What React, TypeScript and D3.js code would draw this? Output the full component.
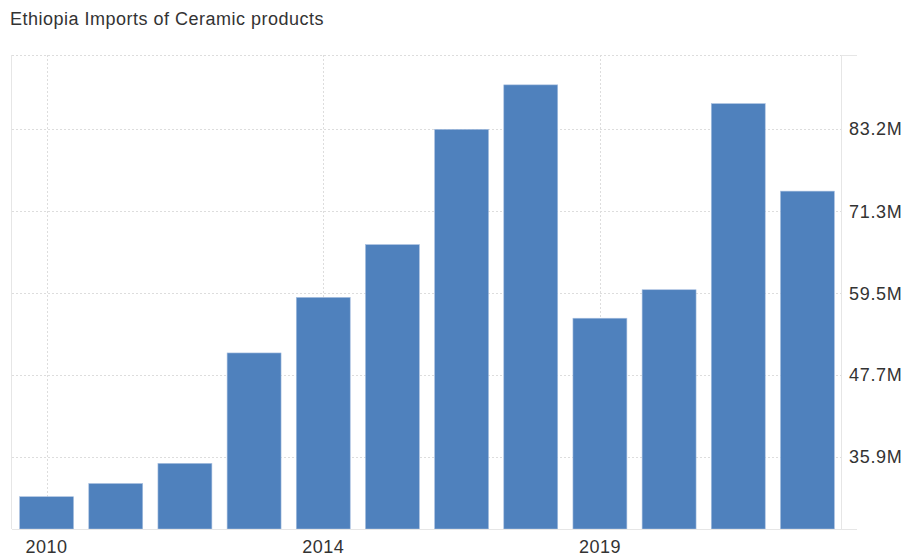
import { useEffect, useRef } from 'react';
import * as d3 from 'd3';

const years = ['2010', '2011', '2012', '2013', '2014', '2015', '2016', '2017', '2019', '2020', '2021', '2022'];
const imports = [30.2, 32.1, 35.0, 50.9, 58.9, 66.5, 83.1, 89.5, 55.9, 60.0, 86.8, 74.2];
const yTicks = [35.9, 47.7, 59.5, 71.3, 83.2];
const xTickYears = ['2010', '2014', '2019'];

const W = 904;
const H = 558;
const BAR = '#4f81bd';
const TEXT = '#333333';
const GRID = '#dddddd';

export default function App() {
  const svgRef = useRef<SVGSVGElement>(null);

  useEffect(() => {
    if (!svgRef.current) return;
    const svg = d3.select(svgRef.current);
    svg.selectAll('*').remove();

    const left = 12;
    const right = 842;
    const top = 55;
    const bottom = 529;

    const x = d3.scaleBand<string>()
      .domain(years)
      .range([left, right])
      .paddingInner(0.22)
      .paddingOuter(0.11);

    const y = d3.scaleLinear().domain([25.55, 93.8]).range([bottom, top]);

    // Title
    svg.append('text')
      .attr('x', 10)
      .attr('y', 25)
      .attr('font-size', 18)
      .attr('letter-spacing', 0.5)
      .attr('fill', TEXT)
      .text('Ethiopia Imports of Ceramic products');

    // top dotted line
    svg.append('line')
      .attr('x1', left).attr('x2', right)
      .attr('y1', top + 0.5).attr('y2', top + 0.5)
      .attr('stroke', GRID)
      .attr('stroke-dasharray', '2,2');

    // Horizontal grid
    svg.append('g')
      .selectAll('line')
      .data(yTicks)
      .join('line')
      .attr('x1', left).attr('x2', right)
      .attr('y1', (d) => Math.round(y(d)) + 0.5)
      .attr('y2', (d) => Math.round(y(d)) + 0.5)
      .attr('stroke', GRID)
      .attr('stroke-dasharray', '2,2');

    // Vertical grid at labeled years
    svg.append('g')
      .selectAll('line')
      .data(xTickYears)
      .join('line')
      .attr('x1', (d) => Math.round(x(d)! + x.bandwidth() / 2) + 0.5)
      .attr('x2', (d) => Math.round(x(d)! + x.bandwidth() / 2) + 0.5)
      .attr('y1', top).attr('y2', bottom)
      .attr('stroke', GRID)
      .attr('stroke-dasharray', '2,2');

    // Left border
    svg.append('line')
      .attr('x1', left - 0.5).attr('x2', left - 0.5)
      .attr('y1', top).attr('y2', bottom)
      .attr('stroke', '#e6e6e6');

    // Right axis line and short top extension
    svg.append('line')
      .attr('x1', right - 0.5).attr('x2', right - 0.5)
      .attr('y1', top).attr('y2', bottom)
      .attr('stroke', '#e6e6e6');
    svg.append('line')
      .attr('x1', right).attr('x2', 857)
      .attr('y1', top + 0.5).attr('y2', top + 0.5)
      .attr('stroke', '#e6e6e6');

    // Bars
    svg.append('g')
      .selectAll('rect')
      .data(imports)
      .join('rect')
      .attr('x', (_, i) => x(years[i])!)
      .attr('y', (d) => y(d))
      .attr('width', x.bandwidth())
      .attr('height', (d) => bottom - y(d))
      .attr('fill', BAR)
      .attr('stroke', '#a9c0e0')
      .attr('stroke-width', 0.6);

    // Bottom axis line
    svg.append('line')
      .attr('x1', left).attr('x2', 857)
      .attr('y1', bottom + 0.5).attr('y2', bottom + 0.5)
      .attr('stroke', '#e6e6e6');

    // Y tick labels (right)
    svg.append('g')
      .selectAll('text')
      .data(yTicks)
      .join('text')
      .attr('x', 849)
      .attr('y', (d) => y(d))
      .attr('dy', '0.35em')
      .attr('font-size', 18)
      .attr('letter-spacing', 0.7)
      .attr('fill', TEXT)
      .text((d) => `${d.toFixed(1)}M`);

    // X tick labels
    svg.append('g')
      .selectAll('text')
      .data(xTickYears)
      .join('text')
      .attr('x', (d) => x(d)! + x.bandwidth() / 2)
      .attr('y', 553)
      .attr('text-anchor', 'middle')
      .attr('font-size', 18)
      .attr('letter-spacing', 0.5)
      .attr('fill', TEXT)
      .text((d) => d);
  }, []);

  return (
    <svg
      ref={svgRef}
      width={W}
      height={H}
      style={{ position: 'absolute', left: 0, top: 0, fontFamily: '"Liberation Sans", Arial, sans-serif', background: '#fff' }}
    />
  );
}
